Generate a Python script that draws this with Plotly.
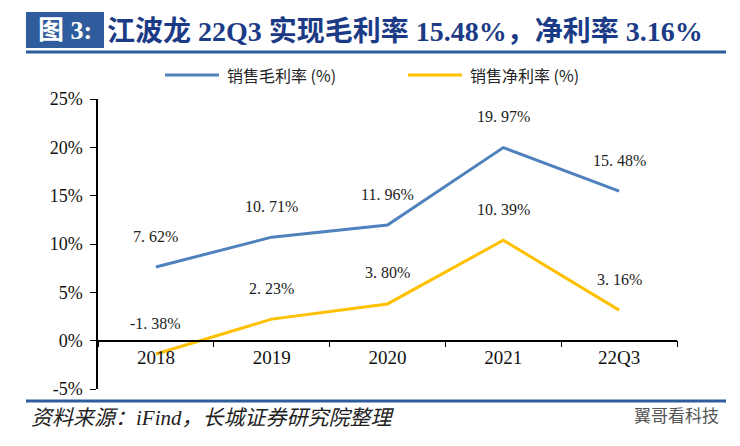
import plotly.graph_objects as go

categories = ["2018", "2019", "2020", "2021", "22Q3"]
gross_margin = [7.62, 10.71, 11.96, 19.97, 15.48]
net_margin = [-1.38, 2.23, 3.80, 10.39, 3.16]
ytick_vals = [-5, 0, 5, 10, 15, 20, 25]
ytick_text = ["-5%", "0%", "5%", "10%", "15%", "20%", "25%"]
series_names = ["销售毛利率 (%)", "销售净利率 (%)"]

W, H = 740, 446
L, R, T, B = 98, 63, 99, 57
PW, PH = W - L - R, H - T - B


def px(x):
    return (x - L) / PW


def py(y):
    return (H - B - y) / PH


BLUE = "#4F81BD"
GOLD = "#FFC000"
NAVY = "#1C3B86"
BAND = "#2E5C9C"
SERIF = "Liberation Serif, Noto Sans CJK SC"

fig = go.Figure()
fig.add_trace(go.Scatter(x=categories, y=gross_margin, mode="lines",
                         line=dict(color=BLUE, width=3), name=series_names[0],
                         showlegend=False))
fig.add_trace(go.Scatter(x=categories, y=net_margin, mode="lines",
                         line=dict(color=GOLD, width=3), name=series_names[1],
                         showlegend=False))

annotations = []
for series in (gross_margin, net_margin):
    for i, v in enumerate(series):
        txt = f"{v:.2f}%".replace(".", ". ")
        annotations.append(dict(x=i, y=v, xref="x", yref="y", text=txt,
                                showarrow=False, yshift=31,
                                font=dict(family=SERIF, size=16, color="#222")))

# legend (manual)
shapes = []
for (x0, x1, tx), col, name in zip([(165, 219, 225), (408, 462, 468)], [BLUE, GOLD], series_names):
    shapes.append(dict(type="line", xref="paper", yref="paper", x0=px(x0), x1=px(x1),
                       y0=py(75), y1=py(75), line=dict(color=col, width=3)))
    annotations.append(dict(x=px(tx), y=py(75), xref="paper", yref="paper", text=name,
                            xanchor="left", yanchor="middle", showarrow=False,
                            font=dict(family="Noto Sans CJK SC", size=16, color="#222")))

# title band
shapes.append(dict(type="rect", xref="paper", yref="paper", x0=px(26), x1=px(104),
                   y0=py(48), y1=py(12), fillcolor=BAND, line=dict(width=0), layer="above"))
annotations.append(dict(x=px(65), y=py(30), xref="paper", yref="paper", text="<b>图 3:</b>",
                        xanchor="center", yanchor="middle", showarrow=False,
                        font=dict(family=SERIF, size=26, color="white")))
annotations.append(dict(x=px(105), y=py(31), xref="paper", yref="paper",
                        text="<b>江波龙 22Q3 实现毛利率 15.48%，净利率 3.16%</b>",
                        xanchor="left", yanchor="middle", showarrow=False,
                        font=dict(family=SERIF, size=28, color=NAVY)))
shapes.append(dict(type="line", xref="paper", yref="paper", x0=px(26), x1=px(726),
                   y0=py(52), y1=py(52), line=dict(color=BAND, width=3)))
shapes.append(dict(type="line", xref="paper", yref="paper", x0=px(26), x1=px(726),
                   y0=py(401), y1=py(401), line=dict(color=BAND, width=3)))
annotations.append(dict(x=px(29), y=py(418), xref="paper", yref="paper",
                        text="<i>资料来源：iFind，长城证券研究院整理</i>",
                        xanchor="left", yanchor="middle", showarrow=False,
                        font=dict(family=SERIF, size=21, color="#222")))
annotations.append(dict(x=px(721), y=py(414), xref="paper", yref="paper",
                        text="翼哥看科技",
                        xanchor="right", yanchor="middle", showarrow=False,
                        font=dict(family="Noto Sans CJK SC", size=17, color="#555")))

fig.update_layout(
    width=W, height=H, autosize=False,
    margin=dict(l=L, r=R, t=T, b=B, pad=0),
    paper_bgcolor="white", plot_bgcolor="white",
    shapes=shapes, annotations=annotations,
    xaxis=dict(type="category", range=[-0.5, 4.5], anchor="free", position=5 / 30,
               showline=True, linecolor="black", linewidth=1.5,
               ticks="outside", ticklen=6, tickcolor="black", tickson="boundaries",
               showgrid=False, zeroline=False,
               tickfont=dict(family=SERIF, size=19, color="#111")),
    yaxis=dict(range=[-5, 25], tickvals=ytick_vals, ticktext=ytick_text,
               showline=True, linecolor="black", linewidth=1.5,
               ticks="outside", ticklen=6, tickcolor="black",
               ticklabelstandoff=4,
               showgrid=False, zeroline=False,
               tickfont=dict(family=SERIF, size=18, color="#111")),
)

fig.write_html("out.html", config={"displayModeBar": False},
               post_script="document.body.style.margin='0';")
